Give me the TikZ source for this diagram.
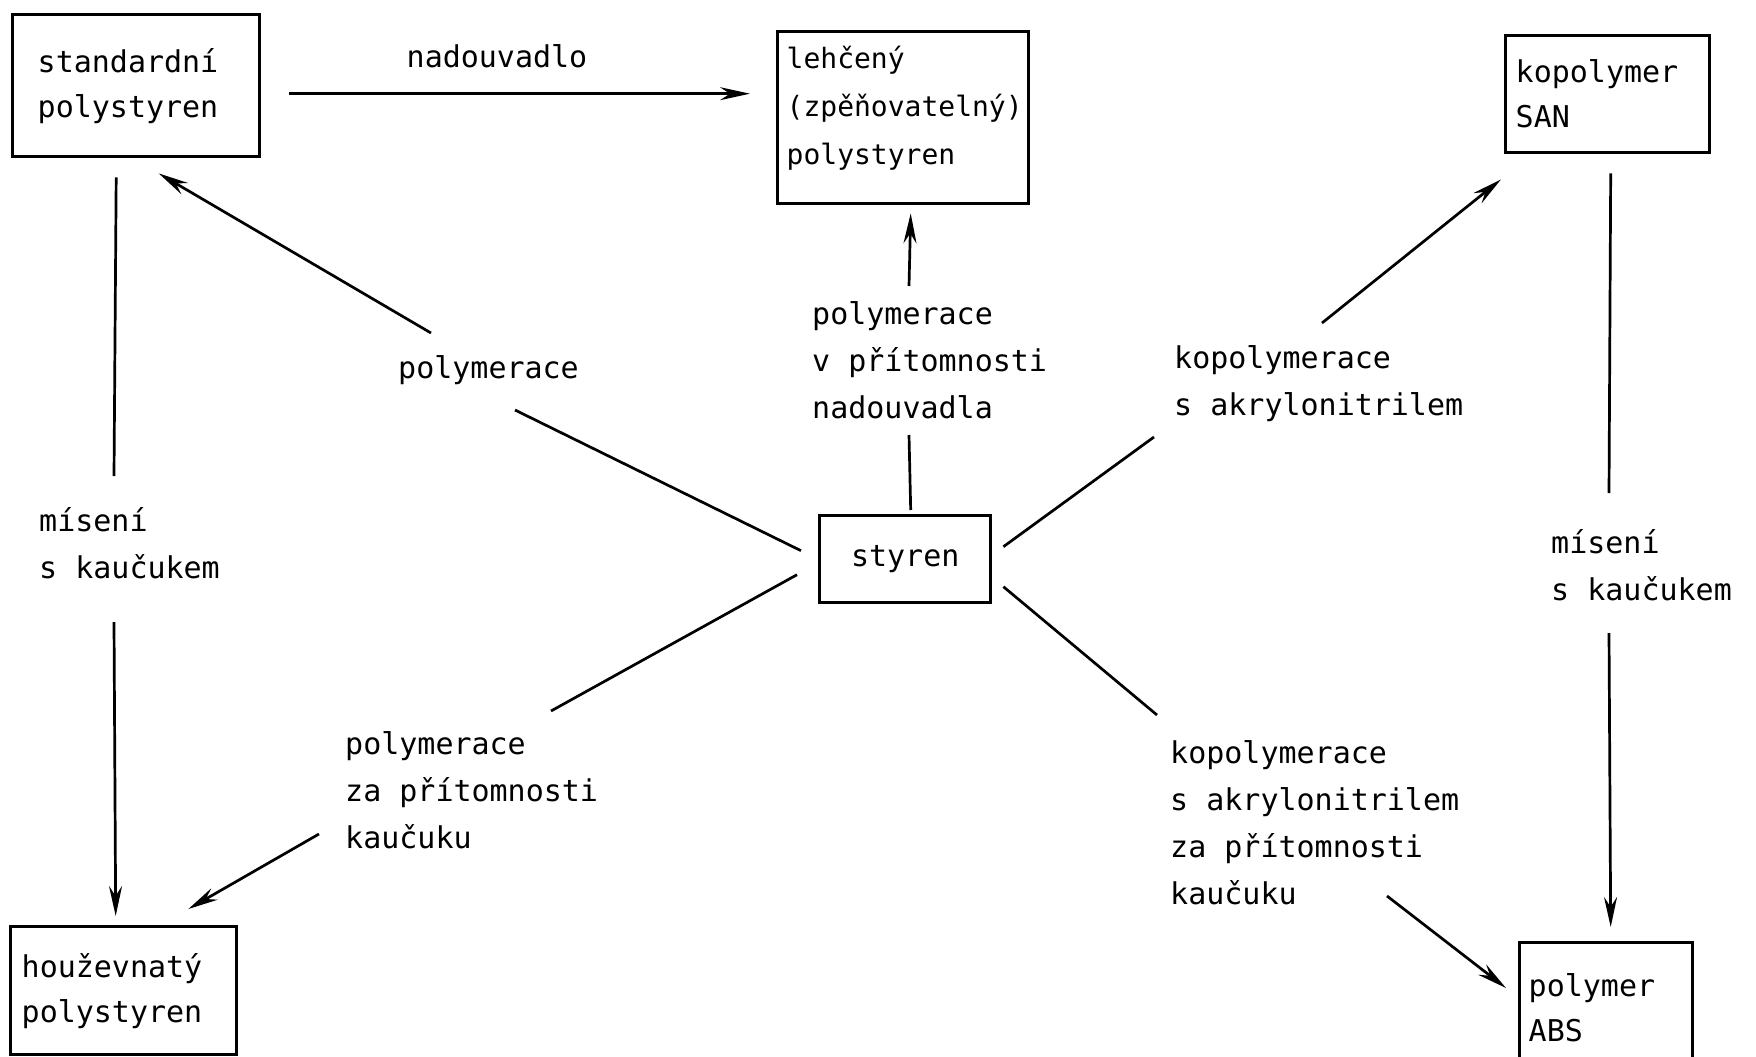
\documentclass[tikz,border=0pt]{standalone}
\usepackage{fontspec}
\newfontfamily\labfont{DejaVu Sans Mono}
\usetikzlibrary{arrows.meta}
\begin{document}
\begin{tikzpicture}[x=1pt,y=-1pt,
  every node/.style={font=\labfont\fontsize{30pt}{47pt}\selectfont, inner sep=0pt},
  box/.style={draw, line width=3.4pt, anchor=north west, align=left, inner ysep=0pt},
  boxfont/.style={font=\labfont\fontsize{30pt}{45pt}\selectfont},
  lbl/.style={anchor=west, align=left},
  conn/.style={line width=2.7pt},
  arr/.style={conn, -{Stealth[length=30pt,width=13pt,inset=10pt]}}]
\useasboundingbox[fill=white] (0,0) rectangle (1756,1057);

% boxes
\node[box, boxfont, minimum width=247pt, minimum height=142pt, text width=197pt, inner xsep=25pt] (A) at (11,13) {standardní\\polystyren};
\node[box, font=\labfont\fontsize{28pt}{48pt}\selectfont, minimum width=251pt, minimum height=172pt, text width=233pt, inner xsep=9pt, text depth=120pt] (B) at (776,30) {lehčený\\(zpěňovatelný)\\polystyren};
\node[box, boxfont, minimum width=204pt, minimum height=117pt, text width=184pt, inner xsep=10pt] (C) at (1504,34) {kopolymer\\SAN};
\node[box, boxfont, minimum width=171pt, minimum height=87pt] (D) at (818,514) {styren};
\node[box, boxfont, minimum width=226pt, minimum height=128pt, text width=204pt, inner xsep=11pt] (E) at (9,925) {houževnatý\\polystyren};
\node[box, boxfont, minimum width=173pt, minimum height=130pt, text width=155pt, inner xsep=9pt] (F) at (1518,941) {polymer\\ABS};

% labels
\node[anchor=center] (l0) at (497,56) {nadouvadlo};
\node[lbl] (l1) at (39,543) {mísení\\s kaučukem};
\node[lbl] (l2) at (398,370) {polymerace};
\node[lbl] (l3) at (812,360) {polymerace\\v přítomnosti\\nadouvadla};
\node[lbl] (l4) at (1174,384) {kopolymerace\\s akrylonitrilem};
\node[lbl] (l5) at (1551,565) {mísení\\s kaučukem};
\node[lbl] (l6) at (345,790) {polymerace\\za přítomnosti\\kaučuku};
\node[lbl] (l7) at (1170,823) {kopolymerace\\s akrylonitrilem\\za přítomnosti\\kaučuku};

% break points of the connectors
\coordinate (m1) at (114,476);  \coordinate (m2) at (114,622);
\coordinate (ul1) at (515,410); \coordinate (ul2) at (431,333);
\coordinate (u1) at (909,435);  \coordinate (u2) at (909,286);
\coordinate (ur1) at (1154,437); \coordinate (ur2) at (1322,323);
\coordinate (r1) at (1609,493); \coordinate (r2) at (1609,633);
\coordinate (ll1) at (551,711); \coordinate (ll2) at (319,834);
\coordinate (lr1) at (1157,715); \coordinate (lr2) at (1387,896);

% connectors
\draw[arr] ([shift={(28,8)}]A.east) -- ([shift={(-26,-24)}]B.west);

\draw[conn] ([shift={(-20,19)}]A.south) -- (m1);
\draw[arr] (m2) -- ([shift={(-8,-9)}]E.north);

\draw[conn] ([shift={(-17,-8.5)}]D.west) -- (ul1);
\draw[arr] (ul2) -- ([shift={(22.5,15)}]A.south);

\draw[conn] ([shift={(5.5,-4)}]D.north) -- (u1);
\draw[arr] (u2) -- ([shift={(7.5,8)}]B.south);

\draw[conn] ([shift={(11,-12.5)}]D.east) -- (ur1);
\draw[arr] (ur2) -- ([shift={(-3,25)}]C.south west);

\draw[conn] ([shift={(3,19)}]C.south) -- (r1);
\draw[arr] (r2) -- ([shift={(4.5,-14)}]F.north);

\draw[conn] ([shift={(-21,15.5)}]D.west) -- (ll1);
\draw[arr] (ll2) -- ([shift={(-50,-16)}]E.north east);

\draw[conn] ([shift={(11,27.5)}]D.east) -- (lr1);
\draw[arr] (lr2) -- ([shift={(-12,47)}]F.north west);
\end{tikzpicture}
\end{document}
